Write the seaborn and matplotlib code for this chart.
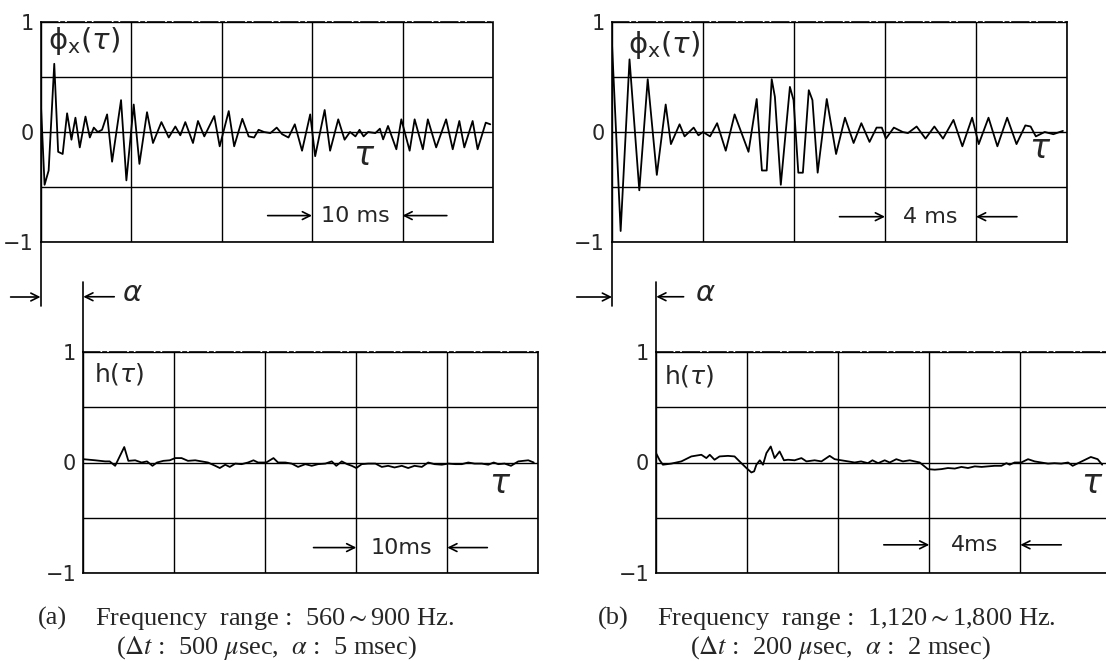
import numpy as np
import pandas as pd
import matplotlib
matplotlib.use('Agg')
import matplotlib.pyplot as plt
import seaborn as sns

# ---------------- data ----------------
# (a) autocorrelation phi_x(tau), tau in ms, 560-900 Hz band
a_phi_t = [0.0, 0.45, 0.9, 1.52, 1.95, 2.45, 2.94, 3.42, 3.86, 4.34, 4.97, 5.45, 5.89, 6.33, 6.8,
           7.36, 7.91, 8.9, 9.49, 10.3, 10.93, 11.77, 12.43, 13.36, 14.17, 14.9, 15.45, 16.0, 16.85,
           17.4, 18.1, 19.2, 19.8, 20.8, 21.4, 22.3, 23.0, 23.6, 24.1, 24.7, 25.4, 26.1, 26.7, 27.4,
           28.1, 28.9, 29.8, 30.35, 31.4, 32.0, 32.9, 33.6, 34.2, 34.8, 35.25, 35.7, 36.2, 37.0, 37.5,
           37.86, 38.4, 39.32, 39.87, 40.79, 41.34, 42.25, 42.8, 43.72, 44.82, 45.55, 46.28, 46.83,
           47.75, 48.3, 49.2, 49.7]
a_phi_v = [0.33, -0.48, -0.35, 0.62, -0.18, -0.2, 0.17, -0.07, 0.13, -0.14, 0.14, -0.05, 0.04, 0.0, 0.02,
           0.16, -0.27, 0.29, -0.44, 0.25, -0.29, 0.18, -0.1, 0.09, -0.05, 0.05, -0.03, 0.09, -0.1,
           0.1, -0.04, 0.145, -0.13, 0.19, -0.13, 0.12, -0.04, -0.05, 0.02, 0.0, -0.01, 0.04, -0.02, -0.05,
           0.07, -0.17, 0.16, -0.22, 0.2, -0.17, 0.115, -0.07, 0.0, -0.04, 0.02, -0.04, 0.0, -0.01, 0.03,
           -0.067, 0.055, -0.157, 0.115, -0.17, 0.115, -0.157, 0.115, -0.14, 0.115, -0.157, 0.1, -0.14,
           0.1, -0.157, 0.085, 0.07]

# (a) impulse response h(tau)
a_h_t = [0.0, 1.3, 2.4, 2.9, 3.5, 4.5, 4.95, 5.7, 6.4, 7.0, 7.6, 8.1, 8.8, 9.5, 10.1, 10.8, 11.5, 12.3,
         13.0, 13.7, 14.5, 15.0, 15.6, 16.1, 16.7, 17.4, 18.1, 18.7, 19.2, 20.1, 20.9, 21.4, 22.2, 22.9,
         23.6, 24.4, 25.1, 25.8, 26.6, 27.3, 27.8, 28.4, 29.0, 29.5, 30.0, 30.6, 31.3, 32.1, 32.8, 33.5,
         34.2, 35.0, 35.7, 36.4, 37.2, 37.9, 38.6, 39.4, 40.1, 40.9, 41.6, 42.3, 43.0, 43.8, 44.5, 45.1,
         45.6, 46.3, 47.0, 47.8, 48.9, 49.5]
a_h_v = [0.03, 0.02, 0.01, 0.01, -0.03, 0.14, 0.015, 0.02, 0.0, 0.01, -0.03, 0.0, 0.015, 0.02, 0.04,
         0.04, 0.015, 0.02, 0.01, 0.0, -0.03, -0.05, -0.02, -0.04, -0.01, -0.015, 0.0, 0.02, 0.0, 0.0,
         0.04, 0.0, 0.0, -0.01, -0.04, -0.015, -0.03, -0.015, -0.01, 0.01, -0.03, 0.01, -0.015, -0.03,
         -0.05, -0.015, -0.01, -0.01, -0.04, -0.03, -0.045, -0.03, -0.05, -0.03, -0.04, 0.0, -0.015,
         -0.02, -0.01, -0.015, -0.015, 0.0, -0.01, -0.01, -0.02, 0.0, -0.015, -0.01, -0.03, 0.01, 0.02, 0.0]

# (b) autocorrelation, 1120-1800 Hz band
b_phi_t = [0.0, 0.38, 0.77, 1.2, 1.57, 1.97, 2.36, 2.59, 2.97, 3.19, 3.59, 3.8, 4.0, 4.31, 4.62, 5.0,
           5.39, 6.0, 6.36, 6.59, 6.8, 7.02, 7.16, 7.42, 7.82, 7.98, 8.19, 8.39, 8.65, 8.81, 9.04, 9.44,
           9.85, 10.24, 10.62, 10.96, 11.32, 11.63, 11.86, 12.04, 12.39, 12.78, 13.01, 13.39, 13.78,
           14.17, 14.55, 15.01, 15.4, 15.83, 16.12, 16.55, 16.94, 17.37, 17.78, 18.17, 18.4, 18.63,
           19.02, 19.4, 19.82]
b_phi_v = [0.8, -0.9, 0.66, -0.53, 0.48, -0.39, 0.25, -0.11, 0.07, -0.04, 0.04, -0.03, 0.0, -0.04, 0.08,
           -0.17, 0.16, -0.18, 0.3, -0.35, -0.35, 0.48, 0.32, -0.48, 0.41, 0.29, -0.37, -0.37, 0.38, 0.29,
           -0.37, 0.3, -0.2, 0.13, -0.1, 0.08, -0.09, 0.04, 0.04, -0.06, 0.04, 0.0, -0.01, 0.05, -0.06,
           0.05, -0.06, 0.11, -0.13, 0.13, -0.11, 0.13, -0.13, 0.13, -0.11, 0.06, 0.05, -0.04, 0.0,
           -0.02, 0.01]

# (b) impulse response
b_h_t = [0.0, 0.15, 0.29, 0.66, 1.1, 1.54, 1.98, 2.2, 2.35, 2.56, 2.78, 3.15, 3.44, 3.66, 3.96, 4.18,
         4.3, 4.4, 4.55, 4.69, 4.84, 5.03, 5.2, 5.42, 5.61, 5.79, 6.08, 6.38, 6.6, 6.96, 7.26, 7.62, 7.84,
         8.13, 8.43, 8.72, 9.0, 9.3, 9.5, 9.75, 10.04, 10.26, 10.55, 10.84, 11.14, 11.36, 11.58, 11.94,
         12.24, 12.53, 12.82, 13.12, 13.41, 13.7, 14.0, 14.3, 14.58, 14.87, 15.17, 15.39, 15.53, 15.75,
         16.04, 16.34, 16.63, 16.92, 17.22, 17.5, 17.8, 18.1, 18.3, 18.5, 18.8, 19.1, 19.4, 19.6]
b_h_v = [0.08, 0.02, -0.02, -0.01, 0.01, 0.055, 0.07, 0.04, 0.07, 0.025, 0.055, 0.06, 0.055, 0.01,
         -0.05, -0.09, -0.08, -0.02, 0.02, -0.02, 0.085, 0.145, 0.04, 0.1, 0.02, 0.025, 0.02, 0.04, 0.01,
         0.02, 0.01, 0.06, 0.03, 0.02, 0.01, 0.0, 0.01, -0.006, 0.02, -0.006, 0.02, 0.0, 0.03, 0.01, 0.02,
         0.01, 0.0, -0.06, -0.065, -0.06, -0.05, -0.055, -0.04, -0.05, -0.035, -0.04, -0.035, -0.03,
         -0.03, -0.006, -0.02, 0.0, 0.0, 0.03, 0.01, 0.0, -0.01, -0.006, -0.01, 0.0, -0.03, -0.01, 0.02,
         0.05, 0.03, -0.02]

y_ticks = [-1, -0.5, 0, 0.5, 1]
y_tick_labels = ['\u22121', '', '0', '', '1']
span_a, step_a, span_b, step_b = 50, 10, 20, 4
# caption lines: (text, left x in pixels, baseline y in pixels)
captions = [
    ('(a)', 37.5, 625),
    ('Frequency  range :  560$\\sim$900 Hz.', 95, 625),
    ('($\\mathit{\\Delta t}$ :  500 $\\mu$sec,  $\\alpha$ :  5 msec)', 116, 654),
    ('(b)', 598, 625),
    ('Frequency  range :  1,120$\\sim$1,800 Hz.', 657, 625),
    ('($\\mathit{\\Delta t}$ :  200 $\\mu$sec,  $\\alpha$ :  2 msec)', 690, 654),
]

# ---------------- figure ----------------
sns.set_style('white')
plt.rcParams['font.family'] = ['DejaVu Sans']
plt.rcParams['mathtext.fontset'] = 'dejavusans'

W, H = 1106, 661
fig = plt.figure(figsize=(W / 100, H / 100), dpi=100)
fig.patch.set_facecolor('white')


def px_axes(x0, x1, ytop, ybot):
    return fig.add_axes([x0 / W, 1 - ybot / H, (x1 - x0) / W, (ybot - ytop) / H])


ax_a1 = px_axes(40.5, 493, 22, 242)
ax_b1 = px_axes(612, 1067, 22, 242)
ax_a2 = px_axes(83.3, 538.3, 352, 573)
ax_b2 = px_axes(656.3, 1111.3, 352, 573)


def style(ax, span, step):
    ax.set_xlim(0, span)
    ax.set_ylim(-1, 1)
    ax.set_xticks(np.arange(0, span + 0.01, step))
    ax.set_yticks(y_ticks)
    ax.set_yticklabels(y_tick_labels)
    ax.tick_params(axis='x', length=0, labelbottom=False)
    ax.tick_params(axis='y', length=0, pad=5, labelsize=15)
    ax.grid(True, color='black', lw=1.0)
    ax.set_axisbelow(True)
    for s in ax.spines.values():
        s.set_visible(True)
        s.set_color('black')
        s.set_linewidth(1.2)
    ax.spines['top'].set_linestyle((0, (10, 2, 2, 2)))
    ax.set_xlabel('')
    ax.set_ylabel('')


def draw(ax, t, v):
    df = pd.DataFrame({'t': t, 'v': v})
    sns.lineplot(data=df, x='t', y='v', ax=ax, color='black', lw=1.3,
                 sort=False, estimator=None, legend=False)


draw(ax_a1, a_phi_t, a_phi_v)
draw(ax_a2, a_h_t, a_h_v)
draw(ax_b1, b_phi_t, b_phi_v)
draw(ax_b2, b_h_t, b_h_v)
style(ax_a1, span_a, step_a)
style(ax_a2, span_a, step_a)
style(ax_b1, span_b, step_b)
style(ax_b2, span_b, step_b)

arrow_kw = dict(arrowstyle='->', color='black', lw=1.2, shrinkA=0, shrinkB=0, mutation_scale=14)


def span_note(ax, xt, y, label, lt, lh, rt, rh):
    ax.text(xt, y, label, ha='center', va='center', fontsize=16)
    for tail, head in ((lt, lh), (rt, rh)):
        ax.annotate('', xy=(head, y), xytext=(tail, y), arrowprops=arrow_kw)


span_note(ax_a1, 34.8, -0.76, '10 ms', 25.1, 30.0, 44.9, 40.0)
span_note(ax_b1, 14.0, -0.77, '4 ms', 10.0, 12.0, 17.8, 16.0)
span_note(ax_a2, 35.0, -0.77, '10ms', 25.3, 30.0, 44.4, 40.0)
span_note(ax_b2, 14.0, -0.745, '4ms', 10.0, 12.0, 17.8, 16.0)

# curve labels
phi_label = r'$\mathrm{\phi}_{\mathrm{x}}(\tau)$'
ax_a1.text(0.8, 0.97, phi_label, ha='left', va='top', fontsize=21)
ax_b1.text(0.7, 0.94, phi_label, ha='left', va='top', fontsize=21)
ax_a2.text(1.2, 0.92, r'h($\tau$)', ha='left', va='top', fontsize=18)
ax_b2.text(0.35, 0.90, r'h($\tau$)', ha='left', va='top', fontsize=18)
ax_a1.text(35.8, -0.21, r'$\tau$', ha='center', va='center', fontsize=24)
ax_b1.text(18.8, -0.15, r'$\tau$', ha='center', va='center', fontsize=24)
ax_a2.text(45.8, -0.19, r'$\tau$', ha='center', va='center', fontsize=24)
ax_b2.text(19.15, -0.19, r'$\tau$', ha='center', va='center', fontsize=24)

# alpha offset markers
for top, bot, tail_top, tail_bot, a_x in ((ax_a1, ax_a2, -3.3, 3.4, 5.4), (ax_b1, ax_b2, -1.55, 1.2, 2.15)):
    top.plot([0, 0], [-1, -1.58], color='black', lw=1.2, clip_on=False)
    bot.plot([0, 0], [1, 1.63], color='black', lw=1.2, clip_on=False)
    top.annotate('', xy=(0, -1.5), xytext=(tail_top, -1.5), arrowprops=arrow_kw, annotation_clip=False)
    bot.annotate('', xy=(0, 1.5), xytext=(tail_bot, 1.5), arrowprops=arrow_kw, annotation_clip=False)
    bot.text(a_x, 1.53, r'$\alpha$', ha='center', va='center', fontsize=21, clip_on=False)

# captions
serif = ['Liberation Serif', 'DejaVu Serif']
for txt, x, ybase in captions:
    fig.text(x / W, 1 - ybase / H, txt, family=serif, fontsize=19, va='baseline',
             math_fontfamily='stix')

fig.savefig('out.png', dpi=100, facecolor='white')
